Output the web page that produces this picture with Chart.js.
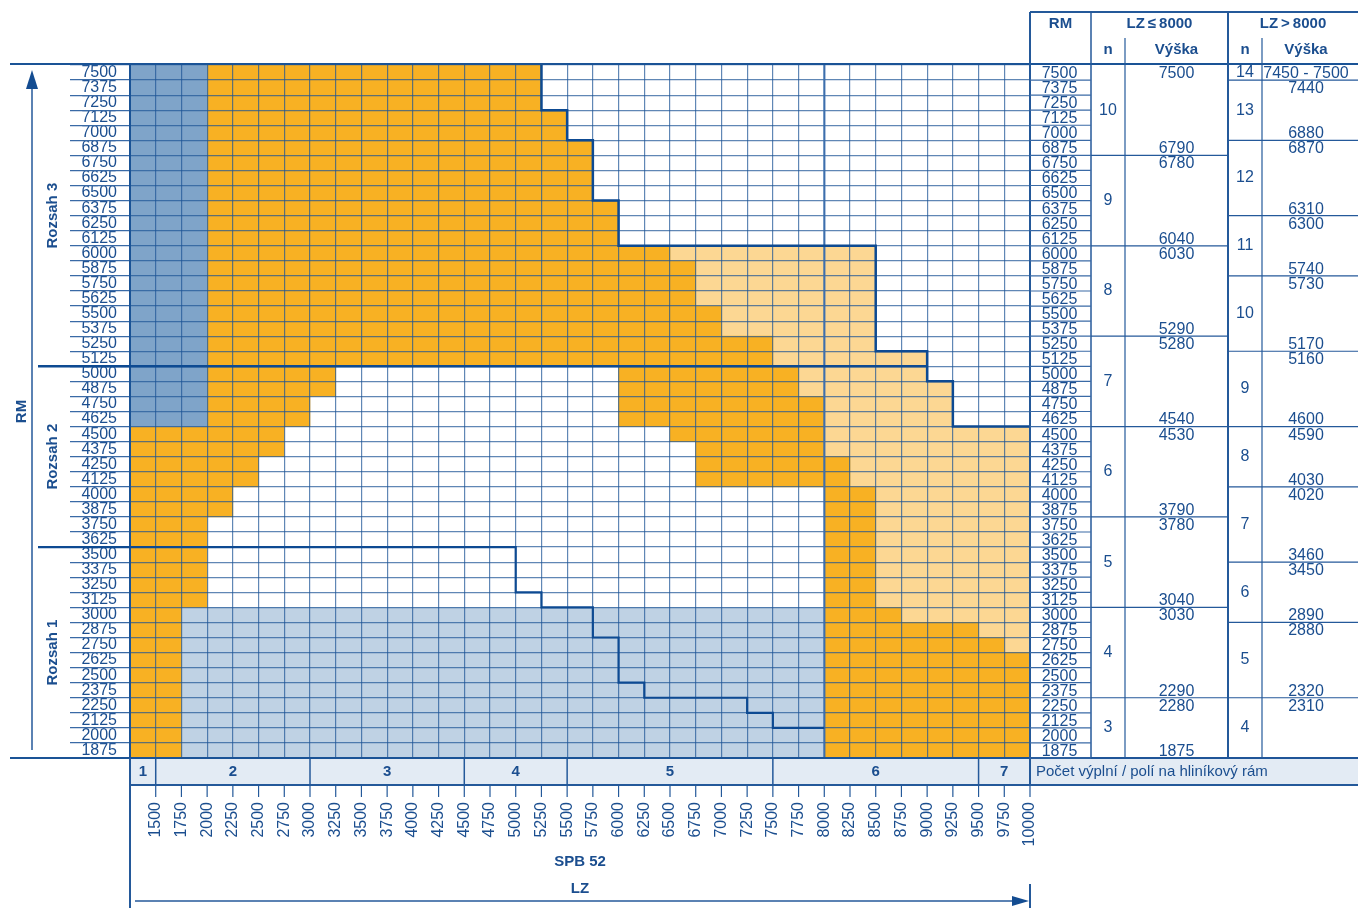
<!DOCTYPE html>
<html>
    <head>
        <title>SPB 52 - RM / LZ</title>
        <meta charset="UTF-8">
        <script src="https://cdn.jsdelivr.net/npm/chart.js@4.4.1/dist/chart.umd.min.js"></script>
        <style>
            body { margin: 0; background: #fff; }
        </style>
    </head>
    <body>
        <canvas id="myChart" width="1358" height="908"></canvas>
        <script>
            // RM rows, top to bottom
            var rmRows = [7500, 7375, 7250, 7125, 7000, 6875, 6750, 6625, 6500, 6375, 6250, 6125,
                6000, 5875, 5750, 5625, 5500, 5375, 5250, 5125, 5000, 4875, 4750, 4625,
                4500, 4375, 4250, 4125, 4000, 3875, 3750, 3625, 3500, 3375, 3250, 3125,
                3000, 2875, 2750, 2625, 2500, 2375, 2250, 2125, 2000, 1875];

            // LZ range [from, to] of each colour, one entry per RM row
            var blueDark = [
                [1250, 2000], [1250, 2000], [1250, 2000], [1250, 2000], [1250, 2000], [1250, 2000], // 7500-6875
                [1250, 2000], [1250, 2000], [1250, 2000], [1250, 2000], [1250, 2000], [1250, 2000], // 6750-6125
                [1250, 2000], [1250, 2000], [1250, 2000], [1250, 2000], [1250, 2000], [1250, 2000], // 6000-5375
                [1250, 2000], [1250, 2000], [1250, 2000], [1250, 2000], [1250, 2000], [1250, 2000], // 5250-4625
                null, null, null, null, null, null,
                null, null, null, null, null, null,
                null, null, null, null, null, null,
                null, null, null, null
            ];
            var orangeA = [
                [2000, 5250], [2000, 5250], [2000, 5250], [2000, 5500], [2000, 5500], [2000, 5750],
                [2000, 5750], [2000, 5750], [2000, 5750], [2000, 6000], [2000, 6000], [2000, 6000],
                [2000, 6500], [2000, 6750], [2000, 6750], [2000, 6750], [2000, 7000], [2000, 7000],
                [2000, 7500], [2000, 7500], [2000, 3250], [2000, 3250], [2000, 3000], [2000, 3000],
                [1250, 2750], [1250, 2750], [1250, 2500], [1250, 2500], [1250, 2250], [1250, 2250],
                [1250, 2000], [1250, 2000], [1250, 2000], [1250, 2000], [1250, 2000], [1250, 2000],
                [1250, 1750], [1250, 1750], [1250, 1750], [1250, 1750], [1250, 1750], [1250, 1750],
                [1250, 1750], [1250, 1750], [1250, 1750], [1250, 1750]
            ];
            var orangeB = [
                null, null, null, null, null, null,
                null, null, null, null, null, null,
                null, null, null, null, null, null,
                null, null, [6000, 7750], [6000, 7750], [6000, 8000], [6000, 8000],
                [6500, 8000], [6750, 8000], [6750, 8250], [6750, 8250], [8000, 8500], [8000, 8500],
                [8000, 8500], [8000, 8500], [8000, 8500], [8000, 8500], [8000, 8500], [8000, 8500],
                [8000, 8750], [8000, 9500], [8000, 9750], [8000, 10000], [8000, 10000], [8000, 10000],
                [8000, 10000], [8000, 10000], [8000, 10000], [8000, 10000]
            ];
            var orangeLight = [
                null, null, null, null, null, null,
                null, null, null, null, null, null,
                [6500, 8500], [6750, 8500], [6750, 8500], [6750, 8500], [7000, 8500], [7000, 8500],
                [7500, 8500], [7500, 9000], [7750, 9000], [7750, 9250], [8000, 9250], [8000, 9250],
                [8000, 10000], [8000, 10000], [8250, 10000], [8250, 10000], [8500, 10000], [8500, 10000],
                [8500, 10000], [8500, 10000], [8500, 10000], [8500, 10000], [8500, 10000], [8500, 10000],
                [8750, 10000], [9500, 10000], [9750, 10000], null, null, null,
                null, null, null, null
            ];
            var blueLight = [
                null, null, null, null, null, null,
                null, null, null, null, null, null,
                null, null, null, null, null, null,
                null, null, null, null, null, null,
                null, null, null, null, null, null,
                null, null, null, null, null, null,
                [1750, 8000], [1750, 8000], [1750, 8000], [1750, 8000], [1750, 8000], [1750, 8000],
                [1750, 8000], [1750, 8000], [1750, 8000], [1750, 8000]
            ];

            // panels per aluminium frame (band under the grid)
            var frameBreaks = [1250, 1500, 3000, 4500, 5500, 7500, 9500, 10000];
            var frameCount = [1, 2, 3, 4, 5, 6, 7];

            // Rozsah ranges
            var rozsahNames = ['Rozsah 3', 'Rozsah 2', 'Rozsah 1'];
            var rozsahFrom = [7500, 5000, 3500];
            var rozsahTo = [5125, 3625, 1875];
            // step line in the light blue field: [LZ end, RM row on whose top it runs]
            var rozsah1Step = [[5000, 3500], [5250, 3125], [5750, 3000], [6000, 2750],
                [6250, 2375], [7250, 2250], [7500, 2125], [8000, 2000]];

            // table LZ <= 8000
            var lowN = [10, 9, 8, 7, 6, 5, 4, 3];
            var lowSpan = [[7500, 6875], [6750, 6125], [6000, 5375], [5250, 4625],
                [4500, 3875], [3750, 3125], [3000, 2375], [2250, 1875]];
            var lowHeight = [['7500', '6790'], ['6780', '6040'], ['6030', '5290'], ['5280', '4540'],
                ['4530', '3790'], ['3780', '3040'], ['3030', '2290'], ['2280', '1875']];

            // table LZ > 8000
            var highN = [14, 13, 12, 11, 10, 9, 8, 7, 6, 5, 4];
            var highSpan = [[7500, 7500], [7375, 7000], [6875, 6375], [6250, 5875], [5750, 5250],
                [5125, 4625], [4500, 4125], [4000, 3500], [3375, 3000], [2875, 2375], [2250, 1875]];
            var highHeight = [['7450 - 7500', null], ['7440', '6880'], ['6870', '6310'], ['6300', '5740'],
                ['5730', '5170'], ['5160', '4600'], ['4590', '4030'], ['4020', '3460'],
                ['3450', '2890'], ['2880', '2320'], ['2310', null]];

//------------------------------------------------------------------------------
            var navy = '#1b4e8f';
            var lineBlue = '#24599a';
            var gridColor = 'rgba(28, 84, 150, 0.7)';
            var fontName = '"Liberation Sans", Arial, sans-serif';

            var extras = {
                id: 'extras',
                afterDraw: function (chart) {
                    var ctx = chart.ctx;
                    var xs = chart.scales.x, ys = chart.scales.y, a = chart.chartArea;
                    var half = (ys.getPixelForValue(1) - ys.getPixelForValue(0)) / 2;
                    var yMid = function (rm) { return ys.getPixelForValue(rmRows.indexOf(rm)); };
                    var yTop = function (rm) { return yMid(rm) - half; };
                    var yBot = function (rm) { return yMid(rm) + half; };
                    var X = function (v) { return xs.getPixelForValue(v); };
                    var bold = 'bold 15px ' + fontName, norm = '16px ' + fontName;

                    function seg(x1, y1, x2, y2, color, w) {
                        ctx.beginPath();
                        ctx.moveTo(x1, y1);
                        ctx.lineTo(x2, y2);
                        ctx.strokeStyle = color;
                        ctx.lineWidth = w;
                        ctx.stroke();
                    }
                    function txt(s, x, y, f, align, rot) {
                        ctx.save();
                        ctx.translate(x, y);
                        if (rot) ctx.rotate(rot);
                        ctx.font = f;
                        ctx.fillStyle = navy;
                        ctx.textAlign = align || 'center';
                        ctx.textBaseline = 'middle';
                        ctx.fillText(s, 0, 0);
                        ctx.restore();
                    }

                    ctx.save();
                    ctx.lineCap = 'butt';

                    // LZ 8000 line
                    seg(X(8000), a.top, X(8000), a.bottom, '#3d6fad', 2);

                    // outline of the filled field
                    var all = [blueDark, orangeA, orangeB, orangeLight, blueLight];
                    var ext = rmRows.map(function (rm, k) {
                        var m = 1250;
                        all.forEach(function (s) { if (s[k]) m = Math.max(m, s[k][1]); });
                        return m;
                    });
                    ctx.beginPath();
                    ctx.moveTo(X(ext[0]), a.top);
                    for (var k = 1; k < ext.length; k++) {
                        if (ext[k] !== ext[k - 1]) {
                            ctx.lineTo(X(ext[k - 1]), yTop(rmRows[k]));
                            ctx.lineTo(X(ext[k]), yTop(rmRows[k]));
                        }
                        if (ext[k] >= 10000) break;
                    }
                    ctx.strokeStyle = '#0d4a92';
                    ctx.lineWidth = 2.5;
                    ctx.stroke();

                    // Rozsah dividers
                    var y2 = yTop(rozsahFrom[1]);
                    seg(38, y2, X(ext[rmRows.indexOf(rozsahFrom[1])]), y2, '#0d4a92', 2.5);
                    ctx.beginPath();
                    ctx.moveTo(38, yTop(rozsah1Step[0][1]));
                    rozsah1Step.forEach(function (s, i) {
                        ctx.lineTo(X(s[0]), yTop(s[1]));
                        if (i + 1 < rozsah1Step.length) ctx.lineTo(X(s[0]), yTop(rozsah1Step[i + 1][1]));
                    });
                    ctx.strokeStyle = '#0d4a92';
                    ctx.lineWidth = 2.2;
                    ctx.stroke();

                    rozsahNames.forEach(function (n, i) {
                        txt(n, 53, (yTop(rozsahFrom[i]) + yBot(rozsahTo[i])) / 2, bold, 'center', -Math.PI / 2);
                    });

                    // RM arrow
                    seg(32, a.top + 22, 32, a.bottom - 8, lineBlue, 1.5);
                    ctx.beginPath();
                    ctx.moveTo(32, a.top + 5);
                    ctx.lineTo(38, a.top + 24);
                    ctx.lineTo(26, a.top + 24);
                    ctx.closePath();
                    ctx.fillStyle = '#134c91';
                    ctx.fill();
                    txt('RM', 22, (a.top + a.bottom) / 2, bold, 'center', -Math.PI / 2);

                    // long border lines
                    seg(10, a.top - 1, 1358, a.top - 1, '#1a5396', 2);
                    seg(10, a.bottom, 1358, a.bottom, '#1a5396', 2);

                    // band with panels per frame
                    var bTop = a.bottom + 1, bBot = a.bottom + 27;
                    ctx.fillStyle = '#e3ebf4';
                    ctx.fillRect(a.left, bTop, 1358 - a.left, bBot - bTop);
                    for (var i = 0; i < frameCount.length; i++) {
                        if (i > 0) seg(X(frameBreaks[i]), bTop, X(frameBreaks[i]), bBot, lineBlue, 1.5);
                        txt(String(frameCount[i]), (X(frameBreaks[i]) + X(frameBreaks[i + 1])) / 2, (bTop + bBot) / 2, bold);
                    }
                    seg(a.left, bBot, 1358, bBot, lineBlue, 2);
                    txt('Počet výplní / polí na hliníkový rám', a.right + 6, (bTop + bBot) / 2, '15px ' + fontName, 'left');

                    // LZ tick marks under the band
                    xs.ticks.forEach(function (t) {
                        if (t.value > xs.min) seg(X(t.value), bBot, X(t.value), bBot + 12, lineBlue, 1.2);
                    });
                    seg(a.left, a.bottom, a.left, 908, lineBlue, 2);
                    seg(a.right, 12, a.right, bBot, lineBlue, 2);
                    seg(a.right, 884, a.right, 908, lineBlue, 2);

                    // SPB 52 / LZ arrow
                    var cx = (a.left + a.right) / 2;
                    txt('SPB 52', cx, 862, bold);
                    txt('LZ', cx, 889, bold);
                    seg(a.left + 5, 901, a.right - 14, 901, lineBlue, 1.5);
                    ctx.beginPath();
                    ctx.moveTo(a.right - 1, 901);
                    ctx.lineTo(a.right - 18, 896);
                    ctx.lineTo(a.right - 18, 906);
                    ctx.closePath();
                    ctx.fillStyle = '#134c91';
                    ctx.fill();

                    // table at the right
                    var c = [a.right, 1091, 1125, 1228, 1262, 1358];
                    seg(c[0], 12, c[5], 12, lineBlue, 2);
                    seg(c[1], 12, c[1], a.bottom, lineBlue, 1.5);
                    seg(c[3], 12, c[3], a.bottom, lineBlue, 2);
                    seg(c[2], 38, c[2], a.bottom, lineBlue, 1.2);
                    seg(c[4], 38, c[4], a.bottom, lineBlue, 1.2);
                    txt('RM', (c[0] + c[1]) / 2, 24, bold);
                    txt('LZ\u2009≤\u20098000', (c[1] + c[3]) / 2, 24, bold);
                    txt('LZ\u2009>\u20098000', (c[3] + c[5]) / 2, 24, bold);
                    txt('n', (c[1] + c[2]) / 2, 50, bold);
                    txt('Výška', (c[2] + c[3]) / 2, 50, bold);
                    txt('n', (c[3] + c[4]) / 2, 50, bold);
                    txt('Výška', (c[4] + c[5]) / 2 - 4, 50, bold);

                    rmRows.forEach(function (rm) {
                        txt(String(rm), (c[0] + c[1]) / 2 - 1, yMid(rm) + 1, norm);
                        seg(c[0], yBot(rm), c[1], yBot(rm), '#3a6aa6', 1.2);
                    });
                    lowN.forEach(function (n, i) {
                        var t = yTop(lowSpan[i][0]), b = yBot(lowSpan[i][1]);
                        seg(c[1], b, c[3], b, lineBlue, 1.2);
                        txt(String(n), (c[1] + c[2]) / 2, (t + b) / 2, norm);
                        txt(lowHeight[i][0], (c[2] + c[3]) / 2, yMid(lowSpan[i][0]) + 1, norm);
                        if (lowHeight[i][1]) txt(lowHeight[i][1], (c[2] + c[3]) / 2, yMid(lowSpan[i][1]) + 1, norm);
                    });
                    highN.forEach(function (n, i) {
                        var t = yTop(highSpan[i][0]), b = yBot(highSpan[i][1]);
                        seg(c[3], b, c[5], b, lineBlue, 1.2);
                        txt(String(n), (c[3] + c[4]) / 2, (t + b) / 2, norm);
                        txt(highHeight[i][0], (c[4] + c[5]) / 2 - 4, yMid(highSpan[i][0]) + 1, norm);
                        if (highHeight[i][1]) txt(highHeight[i][1], (c[4] + c[5]) / 2 - 4, yMid(highSpan[i][1]) + 1, norm);
                    });

                    ctx.restore();
                }
            };

//------------------------------------------------------------------------------
            function bars(values, color) {
                return {
                    data: values,
                    backgroundColor: color,
                    borderWidth: 0,
                    borderSkipped: false,
                    grouped: false,
                    categoryPercentage: 1,
                    barPercentage: 1
                };
            }

            var ctx = document.getElementById("myChart");
            var myChart = new Chart(ctx, {
                type: 'bar',
                data: {
                    labels: rmRows.map(String),
                    datasets: [
                        bars(blueDark, '#7fa4c9'),
                        bars(orangeA, '#f8b123'),
                        bars(orangeB, '#f8b123'),
                        bars(orangeLight, '#fcd793'),
                        bars(blueLight, '#bfd2e4')
                    ]
                },
                options: {
                    responsive: false,
                    animation: false,
                    devicePixelRatio: 1,
                    indexAxis: 'y',
                    layout: { padding: { left: 10, right: 328, top: 65, bottom: 0 } },
                    plugins: { legend: { display: false }, tooltip: { enabled: false } },
                    scales: {
                        x: {
                            type: 'linear',
                            min: 1250,
                            max: 10000,
                            ticks: {
                                stepSize: 250,
                                autoSkip: false,
                                minRotation: 90,
                                maxRotation: 90,
                                padding: 44,
                                color: navy,
                                font: { family: fontName, size: 16 },
                                callback: function (v) { return v === 1250 ? '' : String(v); }
                            },
                            grid: { z: 1, color: gridColor, lineWidth: 1.2, drawTicks: false },
                            border: { z: 1, display: true, color: '#1a5396', width: 2 },
                            afterFit: function (s) { s.height = 150; }
                        },
                        y: {
                            type: 'category',
                            offset: true,
                            ticks: {
                                autoSkip: false,
                                padding: -47,
                                color: navy,
                                font: { family: fontName, size: 16 }
                            },
                            grid: { z: 1, offset: true, color: gridColor, lineWidth: 1.2, tickLength: 60, tickColor: '#3a6aa6' },
                            border: { z: 1, display: true, color: '#1a5396', width: 2 },
                            afterFit: function (s) { s.width = 120; }
                        }
                    }
                },
                plugins: [extras]
            });
        </script>
    </body>
</html>
